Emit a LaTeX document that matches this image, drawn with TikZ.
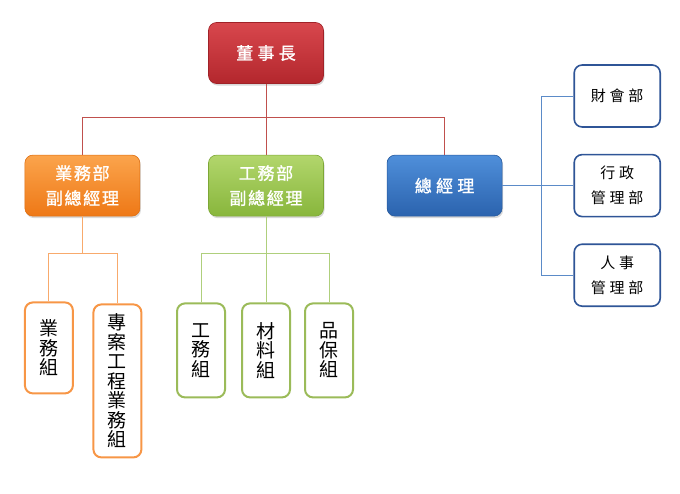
\documentclass[tikz,border=0pt]{standalone}
\usepackage{fontspec}
\newfontfamily\cjk{Noto Sans CJK TC}
\newfontfamily\cjkhead{Noto Sans CJK TC}[LetterSpace=25, FakeBold=1.2]
\newfontfamily\cjkdep{Noto Sans CJK TC}[LetterSpace=10, FakeBold=1.2]
\newfontfamily\cjkdept{Noto Sans CJK TC}[LetterSpace=25]
\usetikzlibrary{positioning,shadows}

\definecolor{chairtop}{HTML}{D8474D}
\definecolor{chairbot}{HTML}{B3272D}
\definecolor{chairrim}{HTML}{A02228}
\definecolor{salestop}{HTML}{FBA44C}
\definecolor{salesbot}{HTML}{EE7816}
\definecolor{salesrim}{HTML}{DE6E10}
\definecolor{workstop}{HTML}{B2D66C}
\definecolor{worksbot}{HTML}{88B63C}
\definecolor{worksrim}{HTML}{7DA736}
\definecolor{gmtop}{HTML}{4F8FDA}
\definecolor{gmbot}{HTML}{2B63AE}
\definecolor{gmrim}{HTML}{27599C}
\definecolor{chairline}{HTML}{C0504D}
\definecolor{salesline}{HTML}{F8AA6C}
\definecolor{worksline}{HTML}{AFCF7C}
\definecolor{gmline}{HTML}{5B8BC8}
\definecolor{salesedge}{HTML}{F79646}
\definecolor{worksedge}{HTML}{9BBB59}
\definecolor{gmedge}{HTML}{2F5597}

\tikzset{
  headbox/.style={rounded corners=8pt, minimum width=115pt, minimum height=61pt,
    text=white, align=center, line width=0.6pt,
    drop shadow={opacity=0.3, shadow xshift=1pt, shadow yshift=-2pt}},
  chairbox/.style={headbox, draw=chairrim, top color=chairtop, bottom color=chairbot,
    font=\cjkhead\fontsize{17}{25}\selectfont},
  salesbox/.style={headbox, draw=salesrim, top color=salestop, bottom color=salesbot,
    font=\cjkdep\fontsize{17}{25}\selectfont},
  worksbox/.style={headbox, draw=worksrim, top color=workstop, bottom color=worksbot,
    font=\cjkdep\fontsize{17}{25}\selectfont},
  gmbox/.style={headbox, draw=gmrim, top color=gmtop, bottom color=gmbot,
    font=\cjkhead\fontsize{17}{25}\selectfont},
  deptbox/.style={rounded corners=8pt, draw=gmedge, line width=1.6pt, fill=white,
    minimum width=86pt, minimum height=62pt, align=center,
    font=\cjkdept\fontsize{15}{25}\selectfont},
  teambox/.style={rounded corners=8pt, line width=2pt, fill=white,
    minimum width=48pt, align=center, inner sep=0pt,
    font=\cjk\fontsize{19}{19.5}\selectfont},
  link/.style={line width=1pt}
}

\begin{document}
\begin{tikzpicture}[x=1pt, y=1pt]
  \useasboundingbox (0,0) rectangle (680,-493);

  % Top levels
  \node[chairbox] (chair) at (266,-53) {董事長};
  \node[worksbox, below=71pt of chair] (works) {工務部\\副總經理};
  \node[salesbox, left=68pt of works] (sales) {業務部\\副總經理};
  \node[gmbox, right=63pt of works] (gm) {總經理};

  % Departments under the general manager
  \node[deptbox, right=71pt of gm] (admin) {行政\\管理部};
  \node[deptbox, above=26pt of admin] (finance) {財會部};
  \node[deptbox, below=26pt of admin] (hr) {人事\\管理部};

  % Teams
  \node[teambox, draw=salesedge, minimum height=91pt, below=85pt of sales, xshift=-33.5pt] (salesteam) {業\\務\\組};
  \node[teambox, draw=salesedge, minimum height=153pt, below=87pt of sales, xshift=35pt] (project) {專\\案\\工\\程\\業\\務\\組};
  \node[teambox, draw=worksedge, minimum height=94pt, below=86pt of works] (material) {材\\料\\組};
  \node[teambox, draw=worksedge, minimum height=94pt, left=15pt of material] (worksteam) {工\\務\\組};
  \node[teambox, draw=worksedge, minimum height=94pt, right=13pt of material] (quality) {品\\保\\組};

  % Bus points
  \coordinate[below=34pt of chair.south] (topbus);
  \coordinate[below=37pt of sales.south] (salesbus);
  \coordinate[below=37pt of works.south] (worksbus);
  \coordinate[right=39pt of gm.east] (gmbus);

  % Connect the nodes
  \draw[link, chairline] (chair) -- (topbus);
  \draw[link, chairline] (sales) |- (topbus) -| (gm);
  \draw[link, chairline] (topbus) -- (works);

  \draw[link, salesline] (sales) -- (salesbus);
  \draw[link, salesline] (salesteam) |- (salesbus) -| (project);

  \draw[link, worksline] (works) -- (worksbus);
  \draw[link, worksline] (worksteam) |- (worksbus) -| (quality);
  \draw[link, worksline] (worksbus) -- (material);

  \draw[link, gmline] (gm) -- (admin);
  \draw[link, gmline] (finance) -| (gmbus);
  \draw[link, gmline] (hr) -| (gmbus);

\end{tikzpicture}
\end{document}
